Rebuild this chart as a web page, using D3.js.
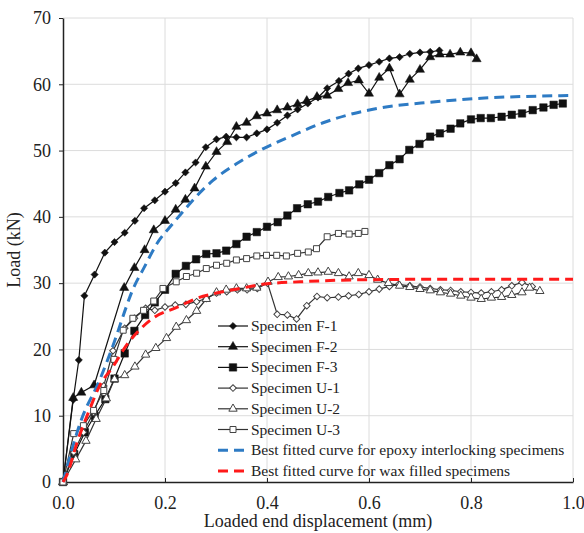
<!DOCTYPE html>
<html>
<head>
<meta charset="utf-8">
<script src="https://cdn.jsdelivr.net/npm/d3@7"></script>
<style>
  body { margin: 0; background: #fff; }
  text { font-family: "Liberation Serif", "Times New Roman", serif; fill: #222; }
</style>
</head>
<body>
<svg class="vis-container"></svg>
<script>
// values (displacement mm, load kN)
const xTicks = [0, 0.2, 0.4, 0.6, 0.8, 1.0];
const yTicks = [0, 10, 20, 30, 40, 50, 60, 70];

const f1 = [[0,0],[0.02,12.4],[0.031,18.4],[0.042,28.1],[0.062,31.3],[0.082,34.6],[0.101,36.2],[0.121,37.6],[0.141,39.4],[0.159,41.3],[0.18,42.5],[0.2,43.8],[0.221,45.1],[0.24,46.7],[0.26,48.2],[0.28,50.5],[0.301,51.7],[0.32,52.1],[0.34,52],[0.36,52],[0.38,52.6],[0.4,53.2],[0.42,54.2],[0.44,55.3],[0.46,56.2],[0.48,57.1],[0.5,58],[0.518,59.4],[0.541,60.5],[0.56,61.6],[0.579,62.4],[0.6,62.9],[0.62,63.4],[0.64,63.9],[0.66,64.1],[0.68,64.6],[0.7,64.8],[0.72,64.9],[0.738,65.1]];
const f2 = [[0,0],[0.02,12.7],[0.036,13.5],[0.061,14.6],[0.12,29.3],[0.14,32.3],[0.16,35],[0.178,38],[0.2,39.4],[0.221,41.1],[0.24,42.6],[0.258,44.3],[0.28,47.6],[0.301,49.8],[0.322,51.3],[0.34,53.6],[0.36,54.2],[0.38,55.2],[0.4,55.6],[0.42,56.1],[0.44,56.5],[0.46,57],[0.478,57.5],[0.498,58.1],[0.518,58.3],[0.54,59.3],[0.559,60.2],[0.58,60.6],[0.6,58.6],[0.62,61],[0.64,62.4],[0.66,58.5],[0.68,60.7],[0.7,62.2],[0.72,64.1],[0.739,64.5],[0.759,64.5],[0.779,64.8],[0.8,64.7],[0.811,63.8]];
const f3 = [[0,0],[0.022,4.2],[0.043,7.5],[0.062,10],[0.083,12.5],[0.101,15.6],[0.121,19.4],[0.14,22.8],[0.161,25.2],[0.18,27.1],[0.2,29],[0.221,31.4],[0.241,32.6],[0.261,33.6],[0.281,34.4],[0.301,34.5],[0.32,34.9],[0.34,35.9],[0.36,37],[0.38,37.7],[0.4,38.5],[0.421,39.2],[0.44,40.2],[0.459,41.3],[0.48,41.9],[0.5,42.3],[0.52,43],[0.542,43.6],[0.561,44],[0.581,44.9],[0.6,45.6],[0.62,46.6],[0.64,47.8],[0.66,48.7],[0.679,50.1],[0.699,51],[0.72,52.1],[0.739,52.6],[0.76,53.3],[0.779,54.1],[0.8,54.7],[0.819,54.9],[0.839,54.9],[0.86,55.1],[0.88,55.4],[0.9,55.6],[0.921,56.1],[0.942,56.5],[0.962,56.9],[0.98,57.1]];
const u1 = [[0,0],[0.021,4.5],[0.04,7.5],[0.06,10.5],[0.08,14.5],[0.098,19.8],[0.121,23.2],[0.14,24.7],[0.162,26.2],[0.18,25.9],[0.2,26.4],[0.22,26.7],[0.241,26.8],[0.262,27.2],[0.281,27.7],[0.301,28.5],[0.321,28.7],[0.342,29],[0.361,29],[0.381,29.2],[0.401,30],[0.42,25.3],[0.44,25.2],[0.458,24.6],[0.478,26.6],[0.498,28],[0.518,27.8],[0.54,27.9],[0.56,28.1],[0.58,28.3],[0.6,28.7],[0.62,29.1],[0.64,29.5],[0.658,29.8],[0.68,29.6],[0.7,29.4],[0.72,29.2],[0.74,29],[0.76,28.9],[0.78,28.7],[0.8,28.6],[0.82,28.5],[0.84,28.7],[0.86,29],[0.88,29.6],[0.9,30.1],[0.92,29.5]];
const u2 = [[0,0],[0.025,3.4],[0.045,6.2],[0.065,9.5],[0.085,12.6],[0.101,15.5],[0.121,16.1],[0.141,17.4],[0.162,19.2],[0.182,20.2],[0.203,21.7],[0.222,23.4],[0.242,24.4],[0.262,25.8],[0.281,27.6],[0.301,28.6],[0.32,29],[0.34,29.2],[0.36,29.2],[0.38,29.3],[0.402,30.2],[0.422,30.9],[0.442,31],[0.462,31.2],[0.481,31.5],[0.5,31.6],[0.52,31.7],[0.54,31.5],[0.561,31],[0.579,31.5],[0.6,31.2],[0.617,30.5],[0.638,30],[0.66,29.6],[0.68,29.4],[0.7,29.1],[0.72,28.9],[0.74,28.6],[0.76,28.4],[0.78,28.1],[0.8,27.8],[0.82,27.6],[0.84,27.8],[0.86,27.9],[0.88,28.2],[0.9,28.6],[0.915,29.3],[0.935,28.8]];
const u3 = [[0,0],[0.021,7.3],[0.04,8.5],[0.06,10.8],[0.08,13.8],[0.1,18.5],[0.118,22.9],[0.137,24.7],[0.158,25.9],[0.178,27.3],[0.196,29.2],[0.222,30.2],[0.242,31],[0.262,31.5],[0.281,32.2],[0.301,32.7],[0.321,33],[0.34,33.5],[0.36,33.7],[0.38,34.1],[0.399,34.2],[0.419,34.2],[0.438,34.1],[0.46,34.5],[0.481,34.7],[0.497,35.2],[0.518,37],[0.54,37.5],[0.561,37.4],[0.579,37.5],[0.592,37.8]];

// fitted curves, points traced along the dashes
const fitEpoxy = [[0,0],[0.036,9.4],[0.072,15.4],[0.1,21],[0.124,26.4],[0.134,28.5],[0.16,32.5],[0.187,36.3],[0.21,38.5],[0.232,40.5],[0.258,42.8],[0.294,45.5],[0.34,48],[0.393,50.3],[0.451,52.3],[0.51,54.2],[0.56,55.4],[0.62,56.4],[0.72,57.3],[0.82,57.9],[1.0,58.3]];
const fitWax = [[0,0],[0.006,0.8],[0.029,6.3],[0.052,10.9],[0.071,14.4],[0.098,17.4],[0.127,20.9],[0.147,22.7],[0.18,24.9],[0.222,26.3],[0.262,27.7],[0.301,28.5],[0.347,29.2],[0.4,29.9],[0.465,30.2],[0.576,30.5],[0.772,30.6],[1.0,30.6]];

const specimens = [
  {name: "Specimen F-1", data: f1, shape: "diamond", filled: true},
  {name: "Specimen F-2", data: f2, shape: "triangle", filled: true},
  {name: "Specimen F-3", data: f3, shape: "square", filled: true},
  {name: "Specimen U-1", data: u1, shape: "diamond", filled: false},
  {name: "Specimen U-2", data: u2, shape: "triangle", filled: false},
  {name: "Specimen U-3", data: u3, shape: "square", filled: false}
];
const fits = [
  {name: "Best fitted curve for epoxy interlocking specimens", data: fitEpoxy, color: "#2e7bc4"},
  {name: "Best fitted curve for wax filled specimens", data: fitWax, color: "#ff1a1a"}
];

const width = 584;
const height = 533;
const margin = {top: 18, left: 63, right: 11, bottom: 51};

const svg = d3.select('.vis-container')
  .attr('width', width)
  .attr('height', height);

const x = d3.scaleLinear().domain([0, 1]).range([margin.left, width - margin.right]);
const y = d3.scaleLinear().domain([0, 70]).range([height - margin.bottom, margin.top]);

// grid
svg.append('g').selectAll('line').data(yTicks.slice(1)).join('line')
  .attr('x1', x(0)).attr('x2', x(1))
  .attr('y1', d => y(d)).attr('y2', d => y(d))
  .attr('stroke', '#dcdcdc').attr('stroke-width', 1);
svg.append('g').selectAll('line').data(xTicks.slice(1)).join('line')
  .attr('x1', d => x(d)).attr('x2', d => x(d))
  .attr('y1', y(0)).attr('y2', y(70))
  .attr('stroke', '#dcdcdc').attr('stroke-width', 1);

// axes
const xAxis = svg.append('g')
  .attr('transform', `translate(0,${y(0)})`)
  .call(d3.axisBottom(x).tickValues(xTicks).tickFormat(d3.format('.1f')).tickSizeInner(-4).tickSizeOuter(0).tickPadding(14));
const yAxis = svg.append('g')
  .attr('transform', `translate(${x(0)},0)`)
  .call(d3.axisLeft(y).tickValues(yTicks).tickSizeInner(4).tickSizeOuter(0).tickPadding(8));
[xAxis, yAxis].forEach(g => {
  g.select('.domain').attr('stroke', '#222').attr('stroke-width', 1.5);
  g.selectAll('.tick line').attr('stroke', '#222');
  g.selectAll('.tick text').style('font-size', '18px').attr('fill', '#222');
});

svg.append('text')
  .attr('x', (x(0) + x(1)) / 2)
  .attr('y', 527)
  .attr('text-anchor', 'middle')
  .style('font-size', '18px')
  .text('Loaded end displacement (mm)');
svg.append('text')
  .attr('transform', `translate(20,${(y(0) + y(70)) / 2}) rotate(-90)`)
  .attr('text-anchor', 'middle')
  .style('font-size', '18px')
  .text('Load (kN)');

// marker shapes, excel-ish
function symbolFor(s) {
  if (s.shape === 'diamond') return d3.symbol(d3.symbolSquare, s.filled ? 26 : 22)();
  if (s.shape === 'triangle') return d3.symbol(d3.symbolTriangle, s.filled ? 36 : 30)();
  return d3.symbol(d3.symbolSquare, s.filled ? 56 : 36)();
}
function markerAttrs(sel, s) {
  sel.attr('d', symbolFor(s))
    .attr('fill', s.filled ? '#111' : '#fff')
    .attr('stroke', s.filled ? '#111' : '#444')
    .attr('stroke-width', s.filled ? 0.5 : 1);
}
function place(s, px, py) {
  return `translate(${px},${py})` + (s.shape === 'diamond' ? ' rotate(45)' : '');
}

const line = d3.line().x(d => x(d[0])).y(d => y(d[1]));
const fitLine = d3.line().x(d => x(d[0])).y(d => y(d[1])).curve(d3.curveMonotoneX);

// specimens
specimens.forEach(s => {
  const g = svg.append('g');
  g.append('path')
    .datum(s.data)
    .attr('d', line)
    .attr('fill', 'none')
    .attr('stroke', s.filled ? '#111' : '#333')
    .attr('stroke-width', 1.2);
  g.selectAll('path.m').data(s.data).join('path')
    .attr('class', 'm')
    .call(markerAttrs, s)
    .attr('transform', d => place(s, x(d[0]), y(d[1])));
});

// fitted curves on top
fits.forEach(f => {
  svg.append('path')
    .datum(f.data)
    .attr('d', fitLine)
    .attr('fill', 'none')
    .attr('stroke', f.color)
    .attr('stroke-width', 3)
    .attr('stroke-dasharray', '10,6');
});

// legend (no box)
const legX = 218, legY = 326, legStep = 20.7;
const legend = svg.append('g');
specimens.forEach((s, i) => {
  const ly = legY + i * legStep;
  legend.append('line')
    .attr('x1', legX).attr('x2', legX + 30)
    .attr('y1', ly).attr('y2', ly)
    .attr('stroke', s.filled ? '#111' : '#333').attr('stroke-width', 1.2);
  legend.append('path')
    .call(markerAttrs, s)
    .attr('transform', place(s, legX + 15, ly));
  legend.append('text')
    .attr('x', legX + 33).attr('y', ly + 5)
    .style('font-size', '15.5px')
    .text(s.name);
});
fits.forEach((f, i) => {
  const ly = legY + (specimens.length + i) * legStep;
  legend.append('line')
    .attr('x1', legX).attr('x2', legX + 30)
    .attr('y1', ly).attr('y2', ly)
    .attr('stroke', f.color).attr('stroke-width', 3)
    .attr('stroke-dasharray', '10,6');
  legend.append('text')
    .attr('x', legX + 33).attr('y', ly + 5)
    .style('font-size', '15.5px')
    .text(f.name);
});
</script>
</body>
</html>
